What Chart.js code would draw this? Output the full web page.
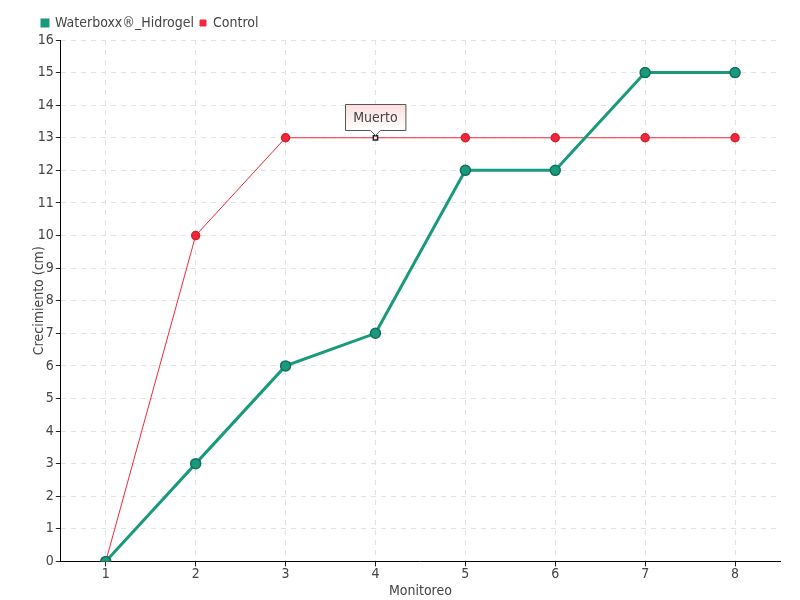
<!DOCTYPE html>
<html>
<head>
<meta charset="utf-8">
<script src="https://cdn.jsdelivr.net/npm/chart.js@4"></script>
<style>
  html, body { margin: 0; padding: 0; background: #fff; }
  #wrap { width: 800px; height: 600px; }
</style>
</head>
<body>
<div id="wrap"><canvas id="chartGrowth"></canvas></div>
<script>
var monitoreos = ["1", "2", "3", "4", "5", "6", "7", "8"];
var waterboxx = [0, 3, 6, 7, 12, 12, 15, 15];
var control = [0, 10, 13, 13, 13, 13, 13, 13];
var notaIndex = 3;
var notaTexto = "Muerto";

var fontFam = "'DejaVu Sans Condensed', 'Liberation Sans Narrow', sans-serif";
var teal = "#1a9a7c";
var red = "#f0283a";

// point colours for the control series, one differs (dead plant)
var ctrlFill = control.map(function(v, i) { return i === notaIndex ? "#ffffff" : red; });
var ctrlBorder = control.map(function(v, i) { return i === notaIndex ? "#222222" : "#d81e2c"; });
var ctrlStyle = control.map(function(v, i) { return i === notaIndex ? "rect" : "circle"; });
var ctrlRadius = control.map(function(v, i) { return i === notaIndex ? 3 : 4; });

var notaPlugin = {
  id: "nota",
  afterLayout: function(chart) {
    // nudge legend so it starts near the y axis
    chart.legend.left += 29;
    chart.legend.right += 29;
  },
  afterDatasetsDraw: function(chart) {
    var ctx = chart.ctx;
    var x = chart.scales.x.getPixelForValue(notaIndex);
    var y = chart.scales.y.getPixelForValue(control[notaIndex]);
    ctx.save();
    ctx.font = "14px " + fontFam;
    var w = ctx.measureText(notaTexto).width + 16;
    var h = 26;
    var left = Math.round(x - w / 2) + 0.5;
    var top = Math.round(y - 34) + 0.5;
    var grad = ctx.createLinearGradient(0, top, 0, top + h);
    grad.addColorStop(0, "#fbdede");
    grad.addColorStop(1, "#ffffff");
    ctx.beginPath();
    ctx.moveTo(left, top);
    ctx.lineTo(left + w, top);
    ctx.lineTo(left + w, top + h);
    ctx.lineTo(x + 5, top + h);
    ctx.lineTo(x, top + h + 5);
    ctx.lineTo(x - 5, top + h);
    ctx.lineTo(left, top + h);
    ctx.closePath();
    ctx.fillStyle = grad;
    ctx.fill();
    ctx.strokeStyle = "#555555";
    ctx.lineWidth = 1;
    ctx.stroke();
    ctx.fillStyle = "#444444";
    ctx.textAlign = "center";
    ctx.textBaseline = "middle";
    ctx.fillText(notaTexto, x, top + h / 2 + 1);
    ctx.restore();
  }
};

var chartGrowth = document.getElementById("chartGrowth");
var myChart = new Chart(chartGrowth, {
  type: 'line',
  data: {
    labels: monitoreos,
    datasets: [{
      label: "Waterboxx®_Hidrogel",
      data: waterboxx,
      borderColor: teal,
      backgroundColor: teal,
      borderWidth: 3,
      pointRadius: 5,
      pointBackgroundColor: teal,
      pointBorderColor: "#13705a",
      pointBorderWidth: 1.5,
      tension: 0
    }, {
      label: "Control",
      data: control,
      borderColor: red,
      backgroundColor: red,
      borderWidth: 1,
      pointRadius: ctrlRadius,
      pointStyle: ctrlStyle,
      pointBackgroundColor: ctrlFill,
      pointBorderColor: ctrlBorder,
      pointBorderWidth: 1.5,
      tension: 0
    }]
  },
  plugins: [notaPlugin],
  options: {
    responsive: true,
    maintainAspectRatio: false,
    animation: false,
    layout: { padding: { left: 7, right: 20, top: 10, bottom: 0 } },
    plugins: {
      legend: {
        position: 'top',
        align: 'start',
        labels: {
          boxWidth: 6,
          boxHeight: 6,
          padding: 6,
          color: "#444444",
          font: { family: fontFam, size: 14 }
        }
      },
      tooltip: { enabled: false }
    },
    scales: {
      x: {
        offset: true,
        grid: {
          color: "#e2e2e2",
          tickColor: "#222222",
          tickLength: 5
        },
        border: { color: "#000000", width: 1, dash: [5, 5] },
        ticks: { color: "#444444", font: { family: fontFam, size: 14 }, padding: 0 },
        title: {
          display: true,
          text: "Monitoreo",
          color: "#444444",
          font: { family: fontFam, size: 14 },
          padding: { top: 0, bottom: 0 }
        }
      },
      y: {
        min: 0,
        max: 16,
        grid: {
          color: "#e2e2e2",
          tickColor: "#222222",
          tickLength: 5
        },
        border: { color: "#000000", width: 1, dash: [5, 5] },
        ticks: { stepSize: 1, color: "#444444", font: { family: fontFam, size: 14 }, padding: 2 },
        title: {
          display: true,
          text: "Crecimiento (cm)",
          color: "#444444",
          font: { family: fontFam, size: 14 },
          padding: { top: 24, bottom: -12 }
        }
      }
    }
  }
});
</script>
</body>
</html>
